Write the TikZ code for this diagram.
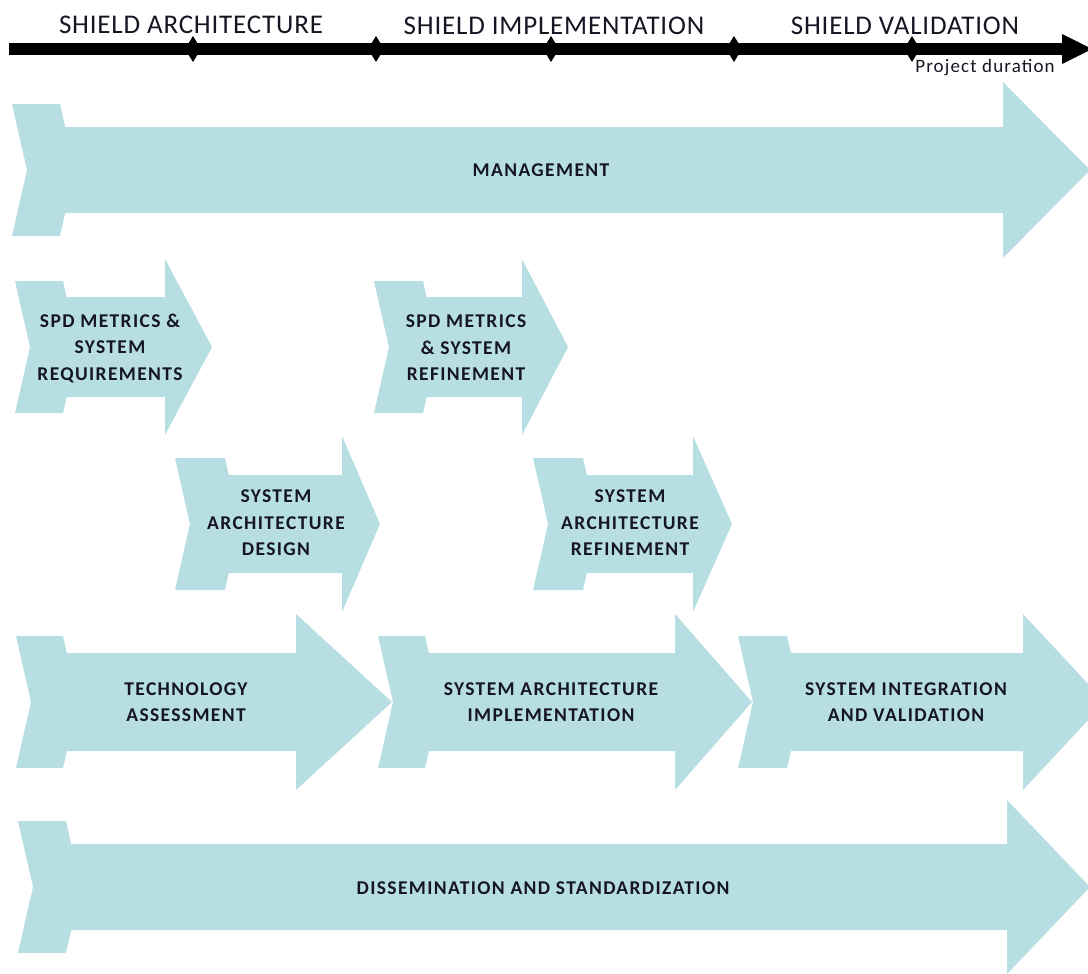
\documentclass[tikz,border=0pt]{standalone}
\usepackage{fontspec}
\setmainfont{Carlito}
\definecolor{arrowblue}{RGB}{183,223,227}
\definecolor{inkdark}{RGB}{22,22,34}
\newcommand{\phasearrow}[8]{% #1 xl, #2 xr, #3 hx, #4 tx, #5 cy, #6 th, #7 bh, #8 hh
  \pgfmathsetmacro\xjn{#2+15*(#6-#7)/#6}
  \fill[arrowfill] (#1,#5-#6) -- (#2,#5-#6) -- (\xjn,#5-#7) -- (#3,#5-#7) -- (#3,#5-#8) -- (#4,#5)
    -- (#3,#5+#8) -- (#3,#5+#7) -- (\xjn,#5+#7) -- (#2,#5+#6) -- (#1,#5+#6) -- (#1+15,#5) -- cycle;
}
\newcommand{\milestonemark}[1]{%
  \fill[black] (#1) ++(0,-13) -- ++(8,13) -- ++(-8,13) -- ++(-8,-13) -- cycle;
}
\tikzset{
  arrowfill/.style={fill=arrowblue},
  phaselabel/.style={align=center, text=inkdark, inner sep=0pt,
    font=\fontsize{19.5}{26.5}\selectfont\bfseries\addfontfeatures{LetterSpace=7}},
  titlelabel/.style={text=inkdark, inner sep=0pt,
    font=\fontsize{27}{32}\selectfont\addfontfeatures{LetterSpace=3}},
  durlabel/.style={text=inkdark, inner sep=0pt,
    font=\fontsize{19}{22}\selectfont\addfontfeatures{LetterSpace=6}},
}
\begin{document}
\begin{tikzpicture}[x=1pt,y=-1pt]
\useasboundingbox (0,0) rectangle (1088,974);
\clip (0,0) rectangle (1088,974);
% timeline
\coordinate (tlstart) at (9,49);
\coordinate (tlend) at (1062,49);
\draw[line width=12pt] (tlstart) -- (tlend);
\fill[black] (1062,34) -- (1092,49) -- (1062,64) -- cycle;
\coordinate (m1) at (193,49);
\coordinate (m2) at (376,49);
\coordinate (m3) at (551,49);
\coordinate (m4) at (734,49);
\coordinate (m5) at (912,49);
\milestonemark{m1}\milestonemark{m2}\milestonemark{m3}\milestonemark{m4}\milestonemark{m5}
\node[titlelabel] (t1) at (191,25) {SHIELD ARCHITECTURE};
\node[titlelabel] (t2) at (554,26) {SHIELD IMPLEMENTATION};
\node[titlelabel] (t3) at (905,26) {SHIELD VALIDATION};
\node[durlabel] (dur) at (985,68) {Project duration};
% arrows
\phasearrow{12}{60}{1003}{1090}{170}{66}{43}{88}
\phasearrow{15}{63}{165}{212}{347}{66}{50}{88}
\phasearrow{374}{423}{522}{568}{347}{66}{50}{88}
\phasearrow{175}{225}{342}{380}{524}{66}{49}{88}
\phasearrow{533}{583}{693}{732}{524}{66}{49}{88}
\phasearrow{16}{63}{296}{392}{702}{66}{49}{88}
\phasearrow{378}{425}{675}{752}{702}{66}{49}{88}
\phasearrow{738}{787}{1023}{1105}{702}{66}{49}{88}
\phasearrow{18}{66}{1007}{1090}{887}{66}{43}{87}
% labels
\node[phaselabel] (mgmt) at (541,170) {MANAGEMENT};
\node[phaselabel] (spdreq) at (110,348) {SPD METRICS \&\\SYSTEM\\REQUIREMENTS};
\node[phaselabel] (spdref) at (466,348) {SPD METRICS\\\& SYSTEM\\REFINEMENT};
\node[phaselabel] (sad) at (276,523) {SYSTEM\\ARCHITECTURE\\DESIGN};
\node[phaselabel] (sar) at (630,523) {SYSTEM\\ARCHITECTURE\\REFINEMENT};
\node[phaselabel] (tech) at (186,702) {TECHNOLOGY\\ASSESSMENT};
\node[phaselabel] (sai) at (551,702) {SYSTEM ARCHITECTURE\\IMPLEMENTATION};
\node[phaselabel] (siv) at (906,702) {SYSTEM INTEGRATION\\AND VALIDATION};
\node[phaselabel] (diss) at (543,888) {DISSEMINATION AND STANDARDIZATION};
\end{tikzpicture}
\end{document}
